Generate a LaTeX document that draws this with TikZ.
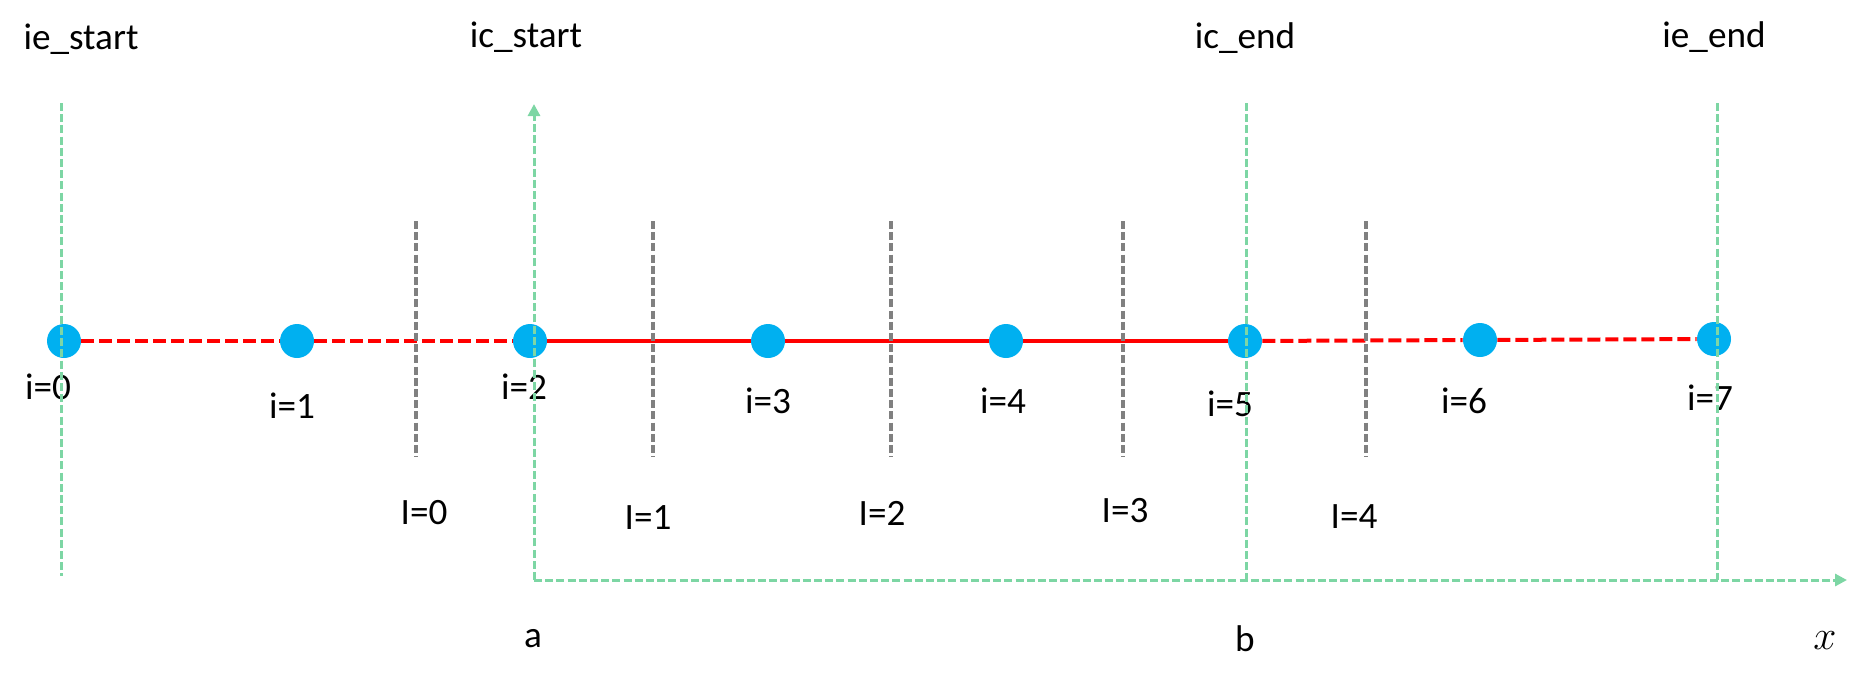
\documentclass[tikz,border=0pt]{standalone}
\usepackage{fontspec}
\setmainfont{Carlito}
\usepackage{xcolor}
\usepackage{tikz}
\usetikzlibrary{arrows.meta}

\definecolor{dotblue}{RGB}{0,176,240}
\definecolor{axisgreen}{RGB}{125,214,164}
\definecolor{cellgray}{RGB}{128,128,128}

\tikzset{
    gridpt/.style={circle, fill=dotblue, minimum size=17pt, inner sep=0pt},
    lbl/.style={font=\fontsize{18.6}{22}\selectfont, inner sep=0pt},
    ghostline/.style={red, line width=2pt, dash pattern=on 6.5pt off 2.5pt},
    coreline/.style={red, line width=2pt},
    bound/.style={axisgreen, line width=1.5pt, dash pattern=on 4pt off 1.6pt},
    face/.style={cellgray, line width=1.7pt, dash pattern=on 4pt off 1.6pt},
}

\begin{document}
\begin{tikzpicture}[x=0.5pt, y=-0.5pt]
    \useasboundingbox (0,0) rectangle (1862,682);

    % cell centres
    \node[gridpt] (P0) at (64,341) {};
    \node[gridpt] (P1) at (297,341) {};
    \node[gridpt] (P2) at (530,341) {};
    \node[gridpt] (P3) at (768,341) {};
    \node[gridpt] (P4) at (1006,341) {};
    \node[gridpt] (P5) at (1245,341) {};
    \node[gridpt] (P6) at (1480,340) {};
    \node[gridpt] (P7) at (1714,339) {};

    % red line: ghost cells dashed, inner cells solid
    \draw[ghostline] (P0) -- (P1);
    \draw[ghostline] (P1) -- (P2);
    \draw[coreline] (P2) -- (P3);
    \draw[coreline] (P3) -- (P4);
    \draw[coreline] (P4) -- (P5);
    \draw[ghostline] (P5) -- (P6);
    \draw[ghostline] (P6) -- (P7);

    % cell faces
    \draw[face] (416,221) -- (416,457);
    \draw[face] (653,221) -- (653,457);
    \draw[face] (891,221) -- (891,457);
    \draw[face] (1123,221) -- (1123,457);
    \draw[face] (1366,221) -- (1366,457);

    % point labels
    \node[lbl] (L0) at (48,387) {i=0};
    \node[lbl] (L1) at (292,406) {i=1};
    \node[lbl] (L2) at (524,387) {i=2};
    \node[lbl] (L3) at (768,401) {i=3};
    \node[lbl] (L4) at (1003,401) {i=4};
    \node[lbl] (L5) at (1230,404) {i=5};
    \node[lbl] (L6) at (1464,401) {i=6};
    \node[lbl] (L7) at (1710,398) {i=7};

    % face labels
    \node[lbl] (F0) at (424,513) {I=0};
    \node[lbl] (F1) at (648,518) {I=1};
    \node[lbl] (F2) at (882,513) {I=2};
    \node[lbl] (F3) at (1125,511) {I=3};
    \node[lbl] (F4) at (1354,517) {I=4};

    % index bounds
    \node[lbl] (ieS) at (81,39) {ie\_start};
    \node[lbl] (icS) at (526,37) {ic\_start};
    \node[lbl] (icE) at (1245,38) {ic\_end};
    \node[lbl] (ieE) at (1714,37) {ie\_end};

    % axes
    \coordinate (O) at (534,580);
    \coordinate (Ytop) at (534,104);
    \coordinate (Xend) at (1847,580);
    \draw[bound] (61,103) -- (61,576);
    \draw[bound] (1246,103) -- (1246,580);
    \draw[bound] (1717,103) -- (1717,580);
    \draw[bound, -{Triangle[length=6pt, width=6pt]}] (O) -- (Ytop);
    \draw[bound, -{Triangle[length=6pt, width=6pt]}] (O) -- (Xend);

    \node[lbl] (a) at (533,639) {a};
    \node[lbl] (b) at (1245,639) {b};
    \node[lbl] (xlab) at (1825,641) {\fontsize{21}{24}\selectfont$x$};
\end{tikzpicture}
\end{document}
